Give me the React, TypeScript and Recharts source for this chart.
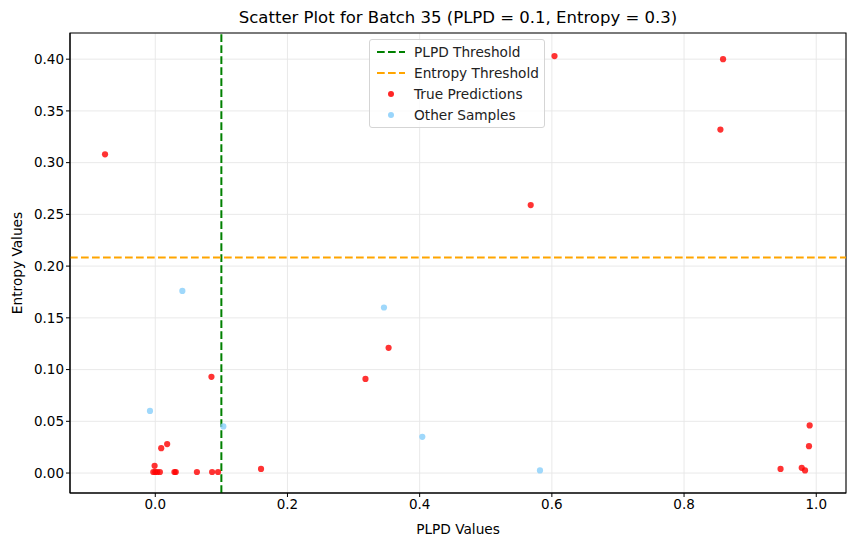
import {
  ScatterChart,
  Scatter,
  XAxis,
  YAxis,
  CartesianGrid,
  ReferenceLine,
  ReferenceArea,
} from 'recharts';

// PLPD / entropy pairs
const truePlpd = [
  -0.076, 0.604, 0.859, 0.855, 0.568, 0.353, 0.318, 0.085, 0.160, 0.990, 0.989, 0.946, 0.978, 0.983,
  -0.001, -0.003, 0.0, 0.003, 0.007, 0.009, 0.018, 0.029, 0.031, 0.063, 0.086, 0.095,
];
const trueEntropy = [
  0.308, 0.403, 0.400, 0.332, 0.259, 0.121, 0.091, 0.093, 0.004, 0.046, 0.026, 0.004, 0.005, 0.0025,
  0.007, 0.001, 0.001, 0.001, 0.001, 0.024, 0.028, 0.001, 0.001, 0.001, 0.001, 0.001,
];
const otherPlpd = [-0.008, 0.103, 0.041, 0.346, 0.404, 0.582];
const otherEntropy = [0.06, 0.045, 0.176, 0.16, 0.035, 0.0025];

const plpdThreshold = 0.1;
const entropyThreshold = 0.2083;

const xTicks = [0, 0.2, 0.4, 0.6, 0.8, 1.0];
const yTicks = [0, 0.05, 0.1, 0.15, 0.2, 0.25, 0.3, 0.35, 0.4];
const xDomain: [number, number] = [-0.129, 1.045];
const yDomain: [number, number] = [-0.0193, 0.4253];

const trueData = truePlpd.map((x, i) => ({ x, y: trueEntropy[i] }));
const otherData = otherPlpd.map((x, i) => ({ x, y: otherEntropy[i] }));

const FONT = '"DejaVu Sans", sans-serif';

const legendItems = [
  { label: 'PLPD Threshold', kind: 'line', color: 'green' },
  { label: 'Entropy Threshold', kind: 'line', color: 'orange' },
  { label: 'True Predictions', kind: 'dot', color: 'red' },
  { label: 'Other Samples', kind: 'dot', color: '#87CEFA' },
];

function LegendBox() {
  return (
    <div
      style={{
        position: 'absolute',
        left: 369,
        top: 39,
        border: '1px solid #d5d5d5',
        borderRadius: 3,
        background: 'rgba(255,255,255,0.8)',
        padding: '2px 5px 2px 7px',
        fontFamily: FONT,
        fontSize: 13.7,
        color: '#222',
      }}
    >
      {legendItems.map((it) => (
        <div key={it.label} style={{ display: 'flex', alignItems: 'center', height: 20.8 }}>
          <svg width={28} height={10} style={{ marginRight: 9 }}>
            {it.kind === 'line' ? (
              <line x1={0} y1={5} x2={28} y2={5} stroke={it.color} strokeWidth={2} strokeDasharray="7.7 3.3" />
            ) : (
              <circle cx={14} cy={5} r={3} fill={it.color} fillOpacity={0.85} />
            )}
          </svg>
          <span>{it.label}</span>
        </div>
      ))}
    </div>
  );
}

const dot = (color: string) => (props: any) =>
  <circle cx={props.cx} cy={props.cy} r={3.1} fill={color} fillOpacity={0.8} />;

export default function App() {
  return (
    <div style={{ position: 'fixed', left: 0, top: 0, width: 855, height: 547, background: '#fff' }}>
      <ScatterChart width={855} height={547} margin={{ top: 33, right: 9, bottom: 24, left: 0 }}>
        <CartesianGrid stroke="#e6e6e6" strokeWidth={0.9} />
        <XAxis
          type="number"
          dataKey="x"
          domain={xDomain}
          ticks={xTicks}
          allowDataOverflow
          height={30}
          tickSize={4}
          tickLine={{ stroke: '#000' }}
          axisLine={{ stroke: '#000' }}
          tick={{ fontSize: 13.5, fill: '#000', fontFamily: FONT }}
          tickFormatter={(v: number) => v.toFixed(1)}
        />
        <YAxis
          type="number"
          dataKey="y"
          domain={yDomain}
          ticks={yTicks}
          allowDataOverflow
          width={70}
          tickSize={4}
          tickLine={{ stroke: '#000' }}
          axisLine={{ stroke: '#000' }}
          tick={{ fontSize: 13.5, fill: '#000', fontFamily: FONT }}
          tickFormatter={(v: number) => v.toFixed(2)}
        />
        <ReferenceArea x1={xDomain[0]} x2={xDomain[1]} y1={yDomain[0]} y2={yDomain[1]} fill="none" stroke="#000" strokeWidth={1.1} />
        <ReferenceLine x={plpdThreshold} stroke="green" strokeWidth={2} strokeDasharray="7.7 3.3" />
        <ReferenceLine y={entropyThreshold} stroke="orange" strokeWidth={2} strokeDasharray="7.7 3.3" />
        <Scatter name="True Predictions" data={trueData} shape={dot('red')} isAnimationActive={false} />
        <Scatter name="Other Samples" data={otherData} shape={dot('#87CEFA')} isAnimationActive={false} />
        <text x={458} y={23} textAnchor="middle" fontSize={16.5} fontFamily={FONT} fill="#000">
          Scatter Plot for Batch 35 (PLPD = 0.1, Entropy = 0.3)
        </text>
        <text x={458} y={534} textAnchor="middle" fontSize={13.7} fontFamily={FONT} fill="#000">
          PLPD Values
        </text>
        <text x={22} y={263} transform="rotate(-90 22 263)" textAnchor="middle" fontSize={13.7} fontFamily={FONT} fill="#000">
          Entropy Values
        </text>
      </ScatterChart>
      <LegendBox />
    </div>
  );
}
